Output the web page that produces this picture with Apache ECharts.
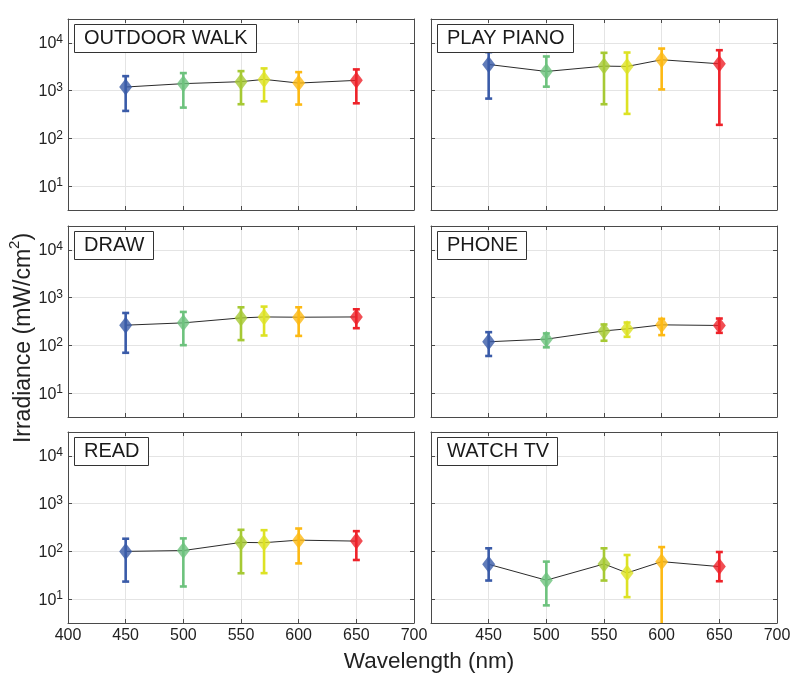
<!DOCTYPE html>
<html><head><meta charset="utf-8">
<script src="https://cdn.jsdelivr.net/npm/echarts@6/dist/echarts.min.js"></script>
<style>html,body{margin:0;padding:0;background:#fff}#c{width:800px;height:681px}</style>
</head><body><div id="c"></div>
<script>
// ---- data ----
const wavelengths = [450, 500, 550, 570, 600, 650];
const pointColors = ['#3a5ba8', '#6dc27d', '#a6c934', '#dde224', '#fdb913', '#ee2229'];
const panelNames = ['OUTDOOR WALK', 'PLAY PIANO', 'DRAW', 'PHONE', 'READ', 'WATCH TV'];
const yTickExponents = [1, 2, 3, 4];
const xTickLabels = [400, 450, 500, 550, 600, 650, 700];

const outdoorWalkMean = [1190, 1400, 1540, 1720, 1440, 1640];
const outdoorWalkLow  = [376, 441, 519, 598, 511, 543];
const outdoorWalkHigh = [2010, 2330, 2560, 2920, 2440, 2780];

const playPianoMean = [3530, 2520, 3260, 3210, 4430, 3650];
const playPianoLow  = [681, 1210, 519, 326, 1060, 192];
const playPianoHigh = [6400, 5190, 6190, 6280, 7600, 7020];

const drawMean = [265, 296, 376, 394, 389, 394];
const drawLow  = [70, 101, 129, 161, 158, 229];
const drawHigh = [477, 501, 628, 649, 628, 570];

const phoneMean = [119, 135, 201, 222, 269, 261];
const phoneLow  = [60, 91, 125, 151, 164, 183];
const phoneHigh = [189, 178, 274, 301, 358, 365];

const readMean = [100, 104, 154, 152, 172, 164];
const readLow  = [23.3, 18.4, 34.8, 35, 56, 66];
const readHigh = [184, 187, 283, 278, 301, 265];

const watchTvMean = [53.6, 24.9, 54.5, 35.4, 61, 48];
const watchTvLow  = [24.5, 7.4, 24.5, 11, 1, 23.7];
const watchTvHigh = [116, 61, 116, 84, 123, 97];

const panelMeans = [outdoorWalkMean, playPianoMean, drawMean, phoneMean, readMean, watchTvMean];
const panelLows  = [outdoorWalkLow, playPianoLow, drawLow, phoneLow, readLow, watchTvLow];
const panelHighs = [outdoorWalkHigh, playPianoHigh, drawHigh, phoneHigh, readHigh, watchTvHigh];

// ---- layout ----
const FONT = 'Liberation Sans, Arial, Helvetica, sans-serif';
const colLefts = [68, 431];
const rowTops = [19, 226, 432];
const panelW = 346, panelH = 191;
const yMin = Math.pow(10, 0.5), yMax = Math.pow(10, 4.5);
const axisColor = '#4a4a4a';

const grids = [], xAxes = [], yAxes = [], series = [], titles = [];

function isDecade(v) {
  const e = Math.log10(v);
  return Math.abs(e - Math.round(e)) < 1e-6 && yTickExponents.indexOf(Math.round(e)) >= 0;
}

for (let i = 0; i < 6; i++) {
  const row = Math.floor(i / 2), col = i % 2;
  grids.push({left: colLefts[col], top: rowTops[row], width: panelW, height: panelH,
    show: true, backgroundColor: '#fff', borderWidth: 0});
  const bottomRow = row === 2, leftCol = col === 0;
  const tickStyle = {show: true, inside: true, length: 4, lineStyle: {color: axisColor, width: 1}};
  xAxes.push({
    gridIndex: i, type: 'value', min: 400, max: 700, interval: 50, position: 'bottom',
    axisLine: {show: true, onZero: false, lineStyle: {color: axisColor, width: 1}},
    axisTick: tickStyle,
    axisLabel: {show: bottomRow, fontSize: 16, color: '#222', fontFamily: FONT, margin: 5,
      showMinLabel: leftCol, showMaxLabel: true},
    splitLine: {show: true, lineStyle: {color: '#e4e4e4', width: 1}}
  });
  xAxes.push({
    gridIndex: i, type: 'value', min: 400, max: 700, interval: 50, position: 'top',
    axisLine: {show: true, onZero: false, lineStyle: {color: axisColor, width: 1}},
    axisTick: tickStyle, axisLabel: {show: false}, splitLine: {show: false}
  });
  yAxes.push({
    gridIndex: i, type: 'log', logBase: 10, min: yMin, max: yMax, position: 'left',
    axisLine: {show: true, onZero: false, lineStyle: {color: axisColor, width: 1}},
    axisTick: {show: true, inside: true, length: 4, lineStyle: {color: axisColor, width: 1},
      interval: function (idx, v) { return isDecade(v); }},
    axisLabel: {show: leftCol, margin: 5, fontFamily: FONT, color: '#222',
      formatter: function (v) {
        if (!isDecade(v)) return '';
        return '{b|10}{e|' + Math.round(Math.log10(v)) + '}';
      },
      rich: {
        b: {fontSize: 16, fontFamily: FONT, color: '#222', lineHeight: 18, verticalAlign: 'bottom', padding: [4, 0, 0, 0]},
        e: {fontSize: 12, fontFamily: FONT, color: '#222', lineHeight: 10, verticalAlign: 'top'}
      }},
    splitLine: {show: true, lineStyle: {color: '#e4e4e4', width: 1},
      interval: function (idx, v) { return isDecade(v); }}
  });
  yAxes.push({
    gridIndex: i, type: 'log', logBase: 10, min: yMin, max: yMax, position: 'right',
    axisLine: {show: true, onZero: false, lineStyle: {color: axisColor, width: 1}},
    axisTick: {show: true, inside: true, length: 4, lineStyle: {color: axisColor, width: 1},
      interval: function (idx, v) { return isDecade(v); }},
    axisLabel: {show: false}, splitLine: {show: false}
  });

  const means = panelMeans[i], lows = panelLows[i], highs = panelHighs[i];
  const xIdx = i * 2, yIdx = i * 2;

  series.push({
    type: 'line', xAxisIndex: xIdx, yAxisIndex: yIdx, z: 2,
    data: wavelengths.map((w, k) => [w, means[k]]),
    symbol: 'none', lineStyle: {color: '#2b2b2b', width: 1}, silent: true
  });
  series.push({
    type: 'custom', xAxisIndex: xIdx, yAxisIndex: yIdx, z: 3, clip: true,
    data: wavelengths.map((w, k) => [w, lows[k], highs[k], k]),
    encode: {x: 0, y: [1, 2]},
    renderItem: function (params, api) {
      const x = api.value(0), lo = api.value(1), hi = api.value(2);
      const c = pointColors[api.value(3)];
      const pLo = api.coord([x, lo]), pHi = api.coord([x, hi]);
      const cw = 3.5;
      const st = {stroke: c, lineWidth: 2.6};
      return {type: 'group', children: [
        {type: 'line', shape: {x1: pLo[0], y1: pLo[1], x2: pHi[0], y2: pHi[1]}, style: st},
        {type: 'line', shape: {x1: pHi[0] - cw, y1: pHi[1], x2: pHi[0] + cw, y2: pHi[1]}, style: st},
        {type: 'line', shape: {x1: pLo[0] - cw, y1: pLo[1], x2: pLo[0] + cw, y2: pLo[1]}, style: st}
      ]};
    }
  });
  series.push({
    type: 'scatter', xAxisIndex: xIdx, yAxisIndex: yIdx, z: 4,
    symbol: 'diamond', symbolSize: [13, 17],
    data: wavelengths.map((w, k) => ({value: [w, means[k]], itemStyle: {color: pointColors[k]}}))
  });

  titles.push({
    text: panelNames[i], left: colLefts[col] + 6, top: rowTops[row] + 5,
    backgroundColor: '#fff', borderColor: '#333', borderWidth: 1,
    padding: [3, 9, 3, 10],
    textStyle: {fontSize: 20, fontWeight: 'normal', color: '#1a1a1a', fontFamily: FONT, lineHeight: 23}
  });
}

const chart = echarts.init(document.getElementById('c'), null, {renderer: 'canvas'});
chart.setOption({
  backgroundColor: '#fff',
  animation: false,
  title: titles,
  grid: grids,
  xAxis: xAxes,
  yAxis: yAxes,
  series: series,
  graphic: [
    {type: 'text', x: 21, y: 338, rotation: Math.PI / 2,
      style: {text: '{a|Irradiance (mW/cm}{s|2}{a|)}', align: 'center', verticalAlign: 'middle',
        textAlign: 'center', textVerticalAlign: 'middle', fill: '#222',
        rich: {
          a: {fontSize: 23, fontFamily: FONT, fill: '#222', color: '#222', lineHeight: 28, verticalAlign: 'bottom'},
          s: {fontSize: 15, fontFamily: FONT, fill: '#222', color: '#222', lineHeight: 15, verticalAlign: 'top'}
        }}},
    {type: 'text', x: 429, y: 662,
      style: {text: 'Wavelength (nm)', fontSize: 22.5, fontFamily: FONT, fill: '#222',
        align: 'center', verticalAlign: 'middle', textAlign: 'center', textVerticalAlign: 'middle'}}
  ]
});
</script>
</body></html>
